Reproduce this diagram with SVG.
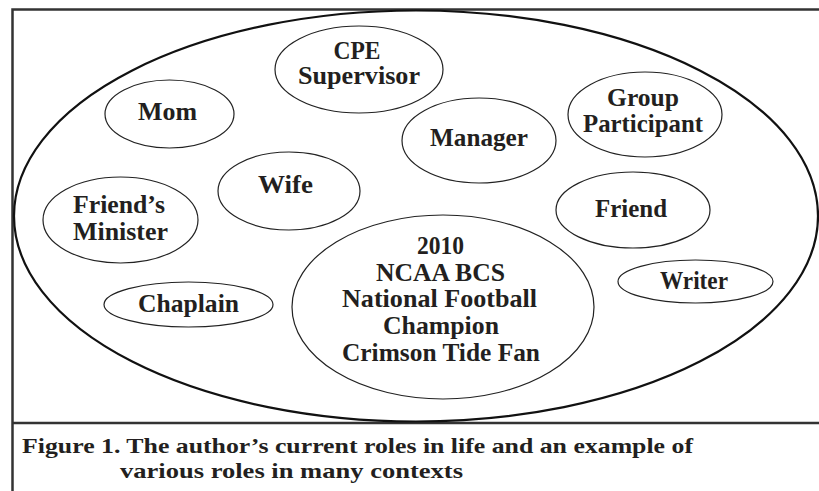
<svg xmlns="http://www.w3.org/2000/svg" width="819" height="491" viewBox="0 0 819 491">
<style>
.n{fill:none;stroke:#222;stroke-width:1.2}
.t{font-family:"Liberation Serif",serif;font-weight:bold;font-size:25px;fill:#231f20;text-anchor:middle}
.c{font-family:"Liberation Serif",serif;font-weight:bold;font-size:22px;fill:#231f20}
.f{fill:none;stroke:#333;stroke-width:2.5}
</style>
<rect width="819" height="491" fill="#fff"/>
<g id="frame">
<path class="f" d="M12.5,491 V9.5 H819 M12.5,423 H819"/>
</g>
<g id="context">
<ellipse cx="416" cy="216" rx="402" ry="205.5" fill="none" stroke="#111" stroke-width="2.2"/>
</g>
<g id="cpe"><ellipse class="n" cx="359" cy="69.5" rx="84" ry="43.5"/><text class="t" x="357" y="59" textLength="47" lengthAdjust="spacingAndGlyphs">CPE</text><text class="t" x="359" y="84" textLength="122" lengthAdjust="spacingAndGlyphs">Supervisor</text></g>
<g id="mom"><ellipse class="n" cx="169.5" cy="114" rx="64.5" ry="34"/><text class="t" x="167.5" y="120" textLength="59" lengthAdjust="spacingAndGlyphs">Mom</text></g>
<g id="wife"><ellipse class="n" cx="289" cy="191" rx="71" ry="39"/><text class="t" x="285.5" y="193" textLength="55" lengthAdjust="spacingAndGlyphs">Wife</text></g>
<g id="friends-minister"><ellipse class="n" cx="120.5" cy="220" rx="77.5" ry="43"/><text class="t" x="119" y="213" textLength="92" lengthAdjust="spacingAndGlyphs">Friend’s</text><text class="t" x="120.5" y="240" textLength="95" lengthAdjust="spacingAndGlyphs">Minister</text></g>
<g id="manager"><ellipse class="n" cx="479" cy="140.5" rx="77" ry="42.5"/><text class="t" x="479" y="146" textLength="98" lengthAdjust="spacingAndGlyphs">Manager</text></g>
<g id="group-participant"><ellipse class="n" cx="645" cy="114.5" rx="77" ry="42.5"/><text class="t" x="643" y="106" textLength="72" lengthAdjust="spacingAndGlyphs">Group</text><text class="t" x="643" y="132" textLength="120" lengthAdjust="spacingAndGlyphs">Participant</text></g>
<g id="friend"><ellipse class="n" cx="633" cy="210" rx="77" ry="38"/><text class="t" x="631" y="217" textLength="72" lengthAdjust="spacingAndGlyphs">Friend</text></g>
<g id="chaplain"><ellipse class="n" cx="188.5" cy="304.5" rx="84.5" ry="22.5"/><text class="t" x="188.5" y="312" textLength="101" lengthAdjust="spacingAndGlyphs">Chaplain</text></g>
<g id="writer"><ellipse class="n" cx="695.5" cy="281.5" rx="77.5" ry="21.5"/><text class="t" x="694" y="289" textLength="68" lengthAdjust="spacingAndGlyphs">Writer</text></g>
<g id="fan"><ellipse class="n" cx="443" cy="307" rx="151" ry="92"/>
<text class="t" x="440.5" y="254" textLength="47" lengthAdjust="spacingAndGlyphs">2010</text>
<text class="t" x="440.5" y="281" textLength="129" lengthAdjust="spacingAndGlyphs">NCAA BCS</text>
<text class="t" x="439.5" y="307" textLength="195" lengthAdjust="spacingAndGlyphs">National Football</text>
<text class="t" x="441" y="334" textLength="116" lengthAdjust="spacingAndGlyphs">Champion</text>
<text class="t" x="441" y="361" textLength="198" lengthAdjust="spacingAndGlyphs">Crimson Tide Fan</text>
</g>
<g id="connectors"></g>
<g id="caption">
<text class="c" x="22" y="453" textLength="671" lengthAdjust="spacingAndGlyphs">Figure 1. The author’s current roles in life and an example of</text>
<text class="c" x="120" y="478" textLength="343" lengthAdjust="spacingAndGlyphs">various roles in many contexts</text>
</g>
</svg>
